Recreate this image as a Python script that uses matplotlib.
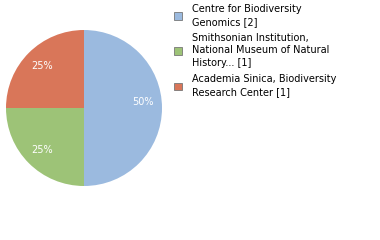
import matplotlib
matplotlib.use("Agg")
import matplotlib.pyplot as plt
from matplotlib.patches import Patch

labels = ["Centre for Biodiversity\nGenomics [2]",
          "Smithsonian Institution,\nNational Museum of Natural\nHistory... [1]",
          "Academia Sinica, Biodiversity\nResearch Center [1]"]
counts = [2, 1, 1]
colors = ["#9bbadf", "#9dc377", "#d97659"]

fig = plt.figure(figsize=(3.8, 2.4), dpi=100)
ax = fig.add_axes([6 / 380, (240 - 186) / 240, 156 / 380, 156 / 240])
wedges, texts, autotexts = ax.pie(counts, colors=colors, startangle=90, counterclock=False,
                                  autopct="%d%%", pctdistance=0.76,
                                  textprops=dict(color="white", fontsize=7))
# the big slice label sits a bit above the horizontal in the original
x, y = autotexts[0].get_position()
autotexts[0].set_position((x, y + 0.08))
ax.set_xlim(-1, 1)
ax.set_ylim(-1, 1)
ax.set_aspect("equal")

handles = [Patch(facecolor=c, edgecolor="#777777", linewidth=0.6) for c in colors]
leg = fig.legend(handles, labels, loc="upper left", bbox_to_anchor=(170 / 380, 1.0),
                 frameon=False, fontsize=7, handlelength=0.8, handleheight=0.8,
                 handletextpad=1.1, labelspacing=0.6, borderaxespad=0.2, borderpad=0.2)
for t in leg.get_texts():
    t.set_linespacing(1.36)

fig.savefig("out.png", dpi=100)
